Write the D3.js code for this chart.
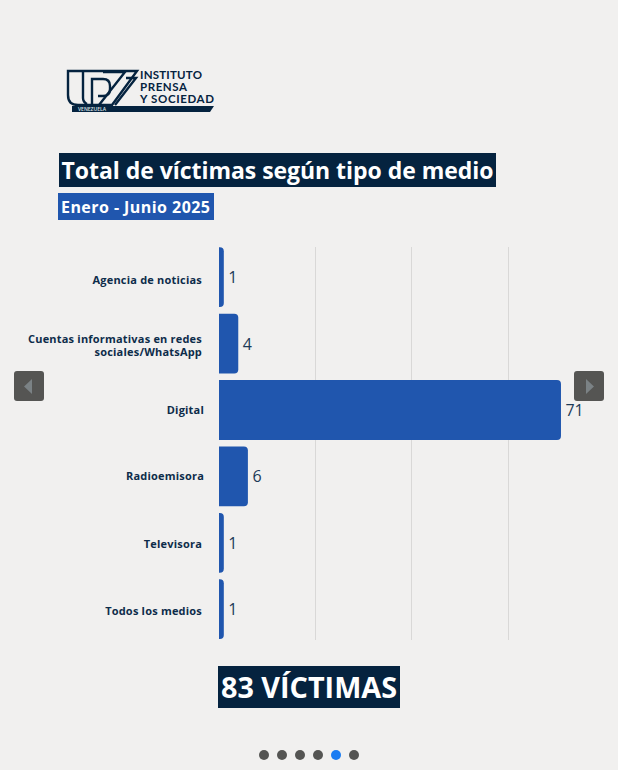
<!DOCTYPE html>
<html><head><meta charset="utf-8">
<script src="https://d3js.org/d3.v7.min.js"></script>
<style>html,body{margin:0;padding:0;background:#f1f0ef;overflow:hidden}svg{display:block}text{font-family:"Open Sans",sans-serif}</style>
</head><body><div id="c"></div>
<script>
const categories=["Agencia de noticias",["Cuentas informativas en redes","sociales/WhatsApp"],"Digital","Radioemisora","Televisora","Todos los medios"];
const values=[1,4,71,6,1,1];
const gridTicks=[20,40,60];
const title="Total de víctimas según tipo de medio";
const subtitle="Enero - Junio 2025";
const total="83 VÍCTIMAS";
const logoLines=["INSTITUTO","PRENSA","Y SOCIEDAD"];
const logoWidths=[62,47,74];
const dots=[0,1,2,3,4,5];
const activeDot=4;
const navy="#05233f",blue="#2056ae",grey="#555553";

const svg=d3.select("#c").append("svg").attr("width",618).attr("height",770);
const x=d3.scaleLinear().domain([0,60]).range([219,508]);
const y=d3.scaleBand().domain(d3.range(values.length)).range([244,642.4]).paddingInner(0.1).paddingOuter(0.05);

// logo
const logo=svg.append("g").attr("fill","none").attr("stroke",navy).attr("stroke-width",2.4);
logo.append("path").attr("d","M68 71H137L112 105H78Q68 105 68 95Z");
logo.append("path").attr("d","M83 71V98Q83 102 87 104M92 105V79H103Q110 79 110 86V89Q110 96 103 96H98");
logo.append("path").attr("d","M103 72H125L99 105M115 105L136 78H126");
logo.append("path").attr("d","M72 106H214L210 112H72Z").attr("fill",navy).attr("stroke","none");
logo.append("text").attr("x",78).attr("y",110.8).attr("fill","#dfe3e6").attr("stroke","none").attr("font-size",5).attr("font-weight",600).text("VENEZUELA");
logo.selectAll("text.l").data(logoLines).join("text").attr("class","l")
 .attr("x",140).attr("y",(d,i)=>78.5+i*12).attr("fill",navy).attr("stroke","none")
 .attr("font-size",11.5).attr("font-weight",700).attr("style",'font-family:"Lato",sans-serif')
 .attr("textLength",(d,i)=>logoWidths[i]).attr("lengthAdjust","spacing").text(d=>d);

// title
svg.append("rect").attr("x",59).attr("y",153).attr("width",437).attr("height",34).attr("fill",navy);
svg.append("text").attr("x",61.5).attr("y",179).attr("fill","#fff").attr("font-size",23).attr("font-weight",700).attr("textLength",432).attr("lengthAdjust","spacing").text(title);
svg.append("rect").attr("x",58).attr("y",193).attr("width",156).attr("height",27).attr("fill",blue);
svg.append("text").attr("x",61).attr("y",213).attr("fill","#fff").attr("font-size",16).attr("font-weight",700).attr("textLength",149).attr("lengthAdjust","spacing").text(subtitle);

// grid
svg.append("g").selectAll("line").data(gridTicks).join("line")
 .attr("x1",d=>Math.floor(x(d))+.5).attr("x2",d=>Math.floor(x(d))+.5).attr("y1",247).attr("y2",640)
 .attr("stroke","#d9d8d7").attr("stroke-width",1);

// bars
svg.append("g").selectAll("path").data(values).join("path")
 .attr("fill",blue).attr("d",(d,i)=>{
  const x0=x(0),x1=x(d),t=y(i),b=t+y.bandwidth(),r=Math.min(4,x1-x0);
  return `M${x0} ${t}H${x1-r}Q${x1} ${t} ${x1} ${t+r}V${b-r}Q${x1} ${b} ${x1-r} ${b}H${x0}Z`;
 });
svg.append("g").selectAll("text").data(values).join("text")
 .attr("x",d=>x(d)+4.5).attr("y",(d,i)=>y(i)+y.bandwidth()/2+6)
 .attr("fill","#1d3a57").attr("font-size",16).text(d=>d);

// category labels
const labelX=[202,202,204,204,202,202];
const labelDy=[7,6,4,4,5,6];
svg.append("g").selectAll("text").data(categories).join("text")
 .attr("text-anchor","end").attr("fill","#0d2c4a").attr("font-size",11).attr("font-weight",700)
 .attr("letter-spacing",0.2)
 .each(function(d,i){
  const lines=Array.isArray(d)?d:[d];
  const cy=y(i)+y.bandwidth()/2+labelDy[i];
  d3.select(this).selectAll("tspan").data(lines).join("tspan")
   .attr("x",labelX[i]).attr("y",(l,k)=>cy+(k-(lines.length-1)/2)*13).text(l=>l);
 });

// total
svg.append("rect").attr("x",218).attr("y",666).attr("width",182).attr("height",42).attr("fill",navy);
svg.append("text").attr("x",309).attr("y",698).attr("text-anchor","middle").attr("fill","#fff").attr("font-size",28.8).attr("font-weight",700).text(total);

// nav arrows
[[14,"M32 379V394L24 386.5Z"],[574,"M586 379V394L594 386.5Z"]].forEach(([bx,p])=>{
 svg.append("rect").attr("x",bx).attr("y",371).attr("width",30).attr("height",30).attr("rx",3).attr("fill",grey);
 svg.append("path").attr("d",p).attr("fill","#7b8285");
});

// dots
svg.append("g").selectAll("circle").data(dots).join("circle")
 .attr("cx",d=>264+d*18).attr("cy",755).attr("r",5)
 .attr("fill",d=>d===activeDot?"#1a7cf2":grey);
</script></body></html>
